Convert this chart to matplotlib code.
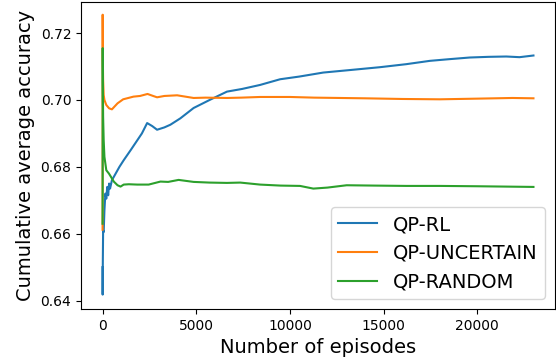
import matplotlib
matplotlib.use("Agg")
import matplotlib.pyplot as plt

# episode / cumulative accuracy pairs
rl_ep = [0, 5, 15, 30, 60, 100, 150, 200, 250, 300, 350, 400, 500, 700, 900, 1130,
         1500, 1800, 2100, 2380, 2650, 2910, 3300, 3620, 4150, 4860, 5750, 6640,
         7450, 8410, 9480, 10500, 11780, 13300, 14800, 16200, 17470, 18500,
         19600, 20600, 21550, 22260, 23000]
rl_acc = [0.650, 0.6418, 0.652, 0.661, 0.6605, 0.667, 0.672, 0.6705, 0.674, 0.6715,
          0.675, 0.6735, 0.676, 0.678, 0.680, 0.682, 0.685, 0.6875, 0.690, 0.6931,
          0.6922, 0.6911, 0.6918, 0.6926, 0.6945, 0.6976, 0.7001, 0.7025,
          0.7033, 0.7045, 0.7062, 0.7070, 0.7082, 0.7090, 0.7098, 0.7107, 0.7117,
          0.7122, 0.7127, 0.7129, 0.7130, 0.7128, 0.7133]

unc_ep = [0, 3, 6, 15, 30, 60, 100, 200, 350, 500, 600, 800, 1100, 1650, 2000, 2400,
          2700, 2910, 3300, 3980, 4860, 5500, 6640, 7400, 8410, 10000, 11300, 12670,
          14000, 16000, 18000, 20000, 21880, 23000]
unc_acc = [0.6612, 0.6646, 0.7255, 0.712, 0.706, 0.7015, 0.700, 0.6985, 0.6975,
           0.6972, 0.6978, 0.699, 0.7002, 0.7010, 0.7012, 0.7018, 0.7012, 0.7008,
           0.7012, 0.7014, 0.7006, 0.7007, 0.7006, 0.7007, 0.7009, 0.7009, 0.7007,
           0.7006, 0.7005, 0.7003, 0.7002, 0.7004, 0.7006, 0.7005]

rnd_ep = [0, 4, 8, 15, 30, 60, 100, 200, 340, 450, 600, 800, 960, 1130, 1400, 1850,
          2460, 3090, 3500, 4060, 4860, 5700, 6640, 7350, 8410, 9500, 10540, 11250,
          12000, 13030, 14500, 16220, 18000, 20000, 21500, 23000]
rnd_acc = [0.663, 0.668, 0.7155, 0.705, 0.695, 0.688, 0.683, 0.679, 0.678, 0.677,
           0.6756, 0.6745, 0.6741, 0.6747, 0.6748, 0.6747, 0.6747, 0.6756, 0.6755,
           0.6761, 0.6755, 0.6753, 0.6752, 0.6753, 0.6747, 0.6744, 0.6743, 0.6735,
           0.6738, 0.6745, 0.6744, 0.6743, 0.6743, 0.6742, 0.6741, 0.6740]

fig = plt.figure(figsize=(5.56, 3.63), dpi=100)
ax = fig.add_axes([0.1457, 0.1488, 0.8525, 0.8457])

ax.plot(rl_ep, rl_acc, label='QP-RL')
ax.plot(unc_ep, unc_acc, label='QP-UNCERTAIN')
ax.plot(rnd_ep, rnd_acc, label='QP-RANDOM')

ax.set_xlim(-1150, 24150)
ax.set_ylim(0.6375, 0.7293)
ax.set_xticks([0, 5000, 10000, 15000, 20000])
ax.set_yticks([0.64, 0.66, 0.68, 0.70, 0.72])
ax.tick_params(labelsize=10)
ax.set_xlabel('Number of episodes', fontsize=14)
ax.set_ylabel('Cumulative average accuracy', fontsize=14)
ax.legend(loc='lower right', fontsize=14)

fig.savefig('out.png', dpi=100)
